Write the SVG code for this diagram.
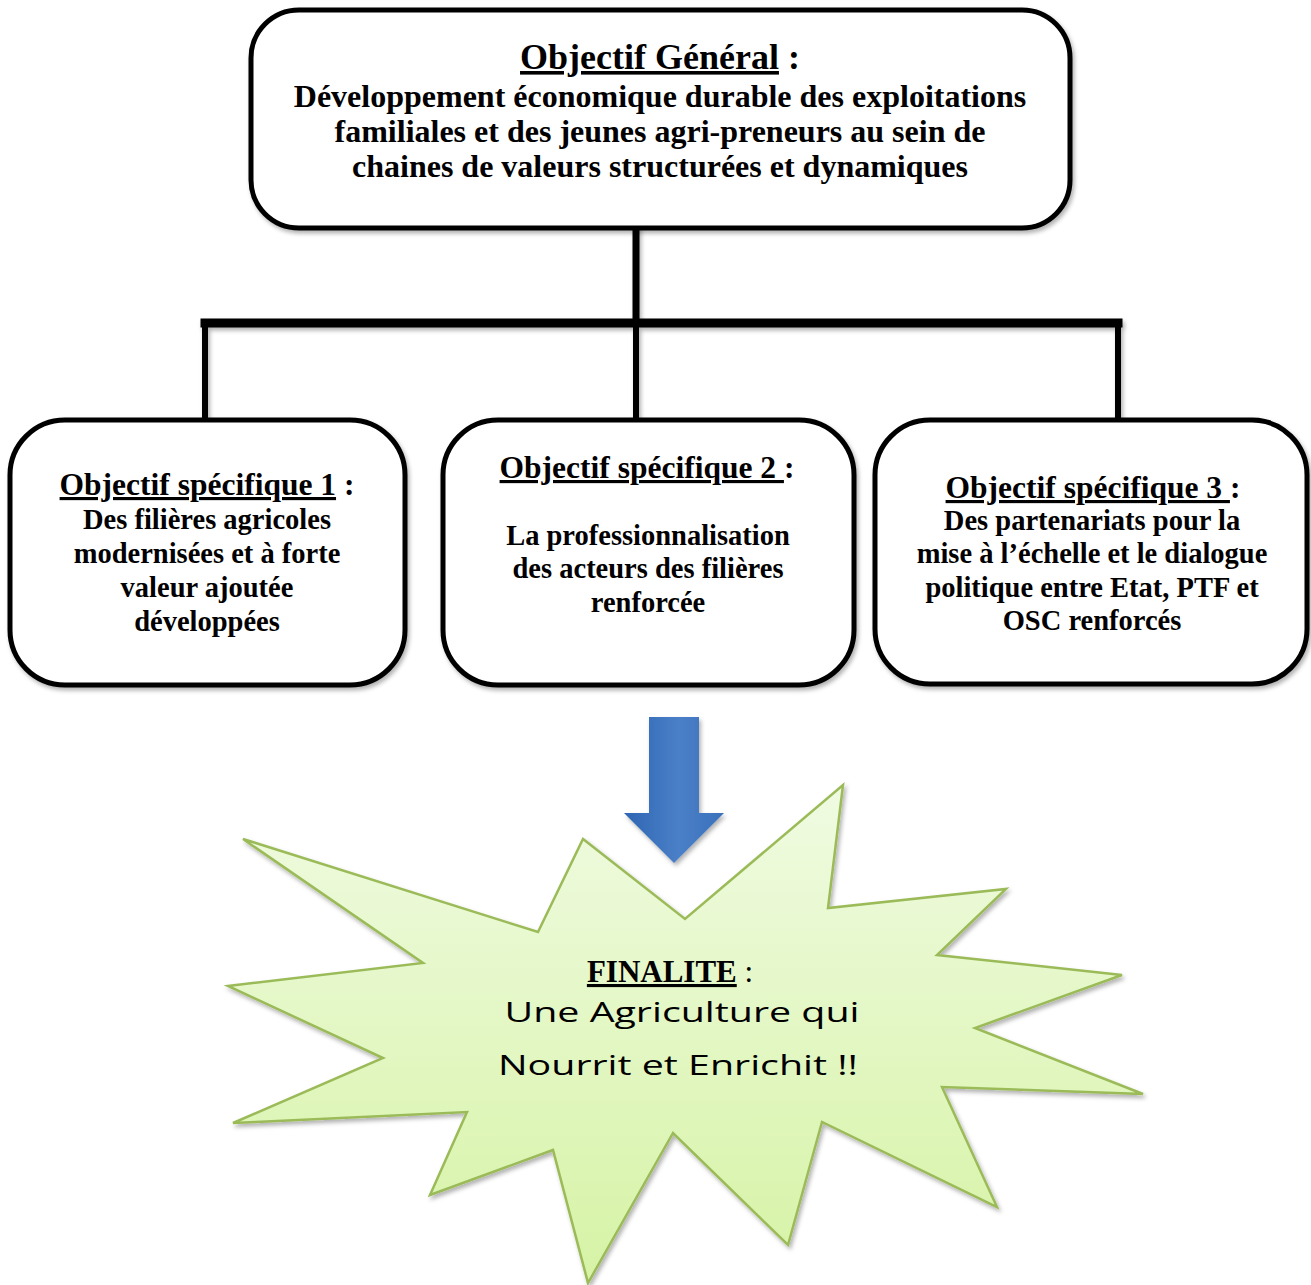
<svg xmlns="http://www.w3.org/2000/svg" width="1311" height="1285" viewBox="0 0 1311 1285">
<defs>
<filter id="sh" x="-10%" y="-10%" width="120%" height="130%">
<feDropShadow dx="2" dy="3" stdDeviation="2" flood-color="#000" flood-opacity="0.3"/>
</filter>
<linearGradient id="starFill" x1="0" y1="0" x2="0" y2="1">
<stop offset="0" stop-color="#f0fbe2"/>
<stop offset="1" stop-color="#d6f3a5"/>
</linearGradient>
<linearGradient id="arrowFill" x1="0" y1="0" x2="1" y2="0">
<stop offset="0" stop-color="#2f65b2"/>
<stop offset="0.55" stop-color="#4a80c8"/>
<stop offset="1" stop-color="#3a70bb"/>
</linearGradient>
<style>
.box{fill:#fff;stroke:#000;stroke-width:5;filter:url(#sh)}
.conn{fill:none;stroke:#000;stroke-linecap:square}
.t{font-family:"Liberation Serif","Times New Roman",serif;font-weight:bold;text-anchor:middle;fill:#000}
.u{text-decoration:underline}
.script{font-family:"Open Sans","DejaVu Sans",sans-serif;font-style:normal;font-weight:400;font-size:28px;fill:#000;text-anchor:middle}
</style>
</defs>
<rect width="1311" height="1285" fill="#fff"/>

<g id="connectors" filter="url(#sh)">
<path class="conn" stroke-width="7" d="M636,228 V323"/>
<path class="conn" stroke-width="9" d="M205,323 H1118"/>
<path class="conn" stroke-width="6" d="M205,323 V420 M636,323 V420 M1118,323 V420"/>
</g>

<g id="objectif-general">
<rect class="box" x="251" y="10" width="819" height="218" rx="48"/>
<text class="t" font-size="36" x="660" y="69"><tspan class="u">Objectif Général</tspan> :</text>
<text class="t" font-size="32" x="660" y="107">Développement économique durable des exploitations</text>
<text class="t" font-size="32" x="660" y="142">familiales et des jeunes agri-preneurs au sein de</text>
<text class="t" font-size="32" x="660" y="177">chaines de valeurs structurées et dynamiques</text>
</g>

<g id="objectif-specifique-1">
<rect class="box" x="10" y="420" width="395" height="265" rx="55"/>
<text class="t" font-size="31.5" x="207" y="495"><tspan class="u">Objectif spécifique 1</tspan> :</text>
<text class="t" font-size="28.5" x="207" y="529">Des filières agricoles</text>
<text class="t" font-size="28.5" x="207" y="563">modernisées et à forte</text>
<text class="t" font-size="28.5" x="207" y="597">valeur ajoutée</text>
<text class="t" font-size="28.5" x="207" y="631">développées</text>
</g>

<g id="objectif-specifique-2">
<rect class="box" x="443" y="420" width="411" height="265" rx="55"/>
<text class="t" font-size="31.5" x="647" y="478"><tspan class="u">Objectif spécifique 2 </tspan>:</text>
<text class="t" font-size="28.5" x="648" y="545">La professionnalisation</text>
<text class="t" font-size="28.5" x="648" y="578">des acteurs des filières</text>
<text class="t" font-size="28.5" x="648" y="612">renforcée</text>
</g>

<g id="objectif-specifique-3">
<rect class="box" x="875" y="420" width="432" height="264" rx="55"/>
<text class="t" font-size="31.5" x="1093" y="498"><tspan class="u">Objectif spécifique 3 </tspan>:</text>
<text class="t" font-size="28.5" x="1092" y="530">Des partenariats pour la</text>
<text class="t" font-size="28.5" x="1092" y="563">mise à l’échelle et le dialogue</text>
<text class="t" font-size="28.5" x="1092" y="597">politique entre Etat, PTF et</text>
<text class="t" font-size="28.5" x="1092" y="630">OSC renforcés</text>
</g>

<g id="finalite">
<polygon points="243,839 538,932 583,839 685,919 843,785 828,908 1006,889 937,955 1122,975 975,1028 1143,1094 942,1087 997,1207 822,1122 788,1245 673,1133 588,1283 553,1150 430,1195 467,1112 233,1123 383,1058 228,986 423,963" fill="url(#starFill)" stroke="#9bbb59" stroke-width="2.5" stroke-linejoin="miter" filter="url(#sh)"/>
<text class="t" font-size="31" x="670" y="982"><tspan class="u">FINALITE</tspan><tspan font-weight="normal"> :</tspan></text>
<text class="script" x="682" y="1022" textLength="355" lengthAdjust="spacingAndGlyphs">Une Agriculture qui</text>
<text class="script" x="678" y="1075" textLength="360" lengthAdjust="spacingAndGlyphs">Nourrit et Enrichit !!</text>
</g>

<g id="arrow">
<polygon points="649,717 699,717 699,813 724,813 674,863 624,813 649,813" fill="url(#arrowFill)" filter="url(#sh)"/>
</g>
</svg>
